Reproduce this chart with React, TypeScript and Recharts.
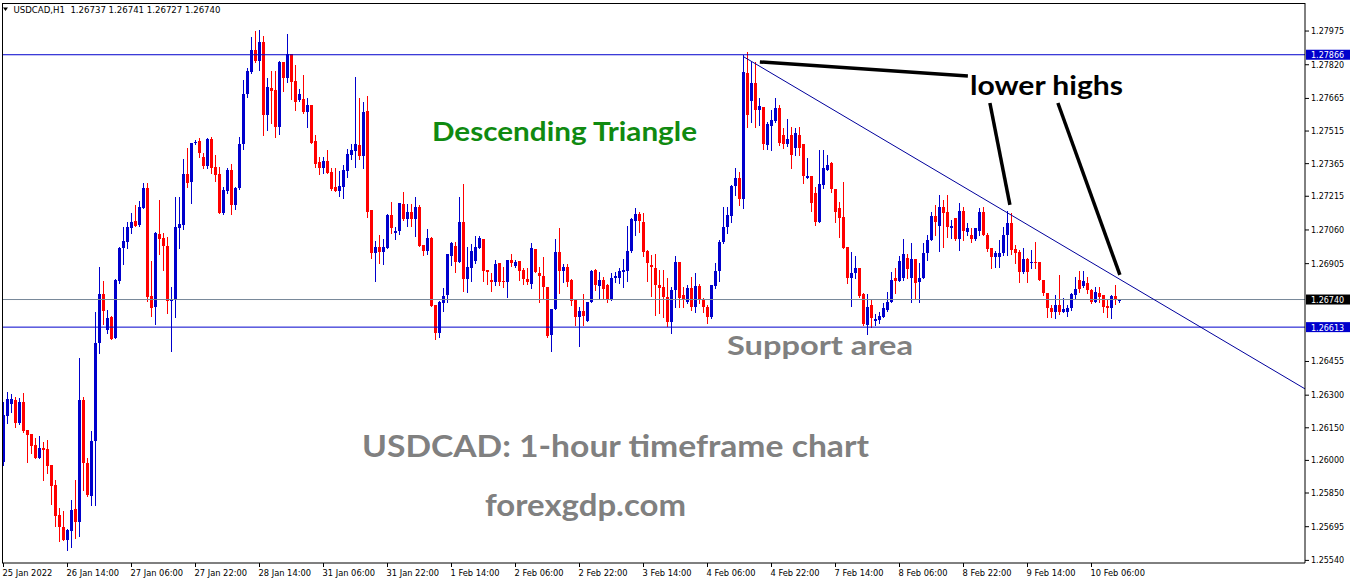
import React from 'react';
import { ComposedChart, Bar, XAxis, YAxis, ReferenceLine } from 'recharts';

// ---------- data (USDCAD H1, 25 Jan 22:00 -> 10 Feb 13:00) ----------
const opens = [
  1.25993, 1.26204, 1.26260, 1.26278, 1.26172, 1.26269, 1.26140, 1.26122, 1.26071, 1.26011,
  1.26057, 1.26053, 1.25979, 1.25887, 1.25749, 1.25694, 1.25634, 1.25675, 1.25777, 1.25717,
  1.26278, 1.25988, 1.25836, 1.26089, 1.26540, 1.26766, 1.26600, 1.26660, 1.26563, 1.26825,
  1.26977, 1.27005, 1.27069, 1.27101, 1.27083, 1.27161, 1.27253, 1.26756, 1.26706, 1.27041,
  1.27023, 1.26986, 1.26733, 1.26743, 1.27069, 1.27083, 1.27318, 1.27281, 1.27460, 1.27469,
  1.27396, 1.27354, 1.27479, 1.27350, 1.27318, 1.27138, 1.27239, 1.27336, 1.27175, 1.27253,
  1.27456, 1.27686, 1.27787, 1.27888, 1.27837, 1.27925, 1.27589, 1.27713, 1.27704, 1.27534,
  1.27833, 1.27759, 1.27870, 1.27745, 1.27658, 1.27663, 1.27603, 1.27635, 1.27469, 1.27373,
  1.27345, 1.27377, 1.27327, 1.27258, 1.27239, 1.27258, 1.27331, 1.27405, 1.27423, 1.27451,
  1.27400, 1.27607, 1.27152, 1.26954, 1.26982, 1.26959, 1.26977, 1.27129, 1.27046, 1.27055,
  1.27180, 1.27111, 1.27143, 1.27111, 1.27166, 1.26991, 1.26963, 1.27023, 1.26715, 1.26586,
  1.26724, 1.26761, 1.26940, 1.26986, 1.26913, 1.27097, 1.26834, 1.26885, 1.26917, 1.26977,
  1.27019, 1.26876, 1.26830, 1.26821, 1.26908, 1.26825, 1.26821, 1.26922, 1.26894, 1.26917,
  1.26876, 1.26834, 1.26812, 1.26973, 1.26862, 1.26848, 1.26798, 1.26577, 1.26697, 1.26959,
  1.26871, 1.26890, 1.26830, 1.26738, 1.26660, 1.26687, 1.26641, 1.26729, 1.26876, 1.26802,
  1.26830, 1.26807, 1.26743, 1.26839, 1.26839, 1.26867, 1.26871, 1.26963, 1.27101, 1.27134,
  1.27097, 1.26963, 1.26899, 1.26885, 1.26807, 1.26798, 1.26752, 1.26637, 1.26784, 1.26913,
  1.26761, 1.26729, 1.26793, 1.26706, 1.26802, 1.26738, 1.26706, 1.26660, 1.26802, 1.26871,
  1.27005, 1.27074, 1.27124, 1.27262, 1.27299, 1.27203, 1.27782, 1.27653, 1.27736, 1.27612,
  1.27626, 1.27451, 1.27539, 1.27561, 1.27621, 1.27497, 1.27456, 1.27497, 1.27437, 1.27497,
  1.27456, 1.27299, 1.27308, 1.27230, 1.27097, 1.27267, 1.27336, 1.27368, 1.27249, 1.27161,
  1.27120, 1.26982, 1.26839, 1.26862, 1.26885, 1.26766, 1.26623, 1.26715, 1.26641, 1.26646,
  1.26660, 1.26692, 1.26729, 1.26839, 1.26825, 1.26839, 1.26931, 1.26839, 1.26927, 1.26821,
  1.26839, 1.26954, 1.27014, 1.27124, 1.27078, 1.27166, 1.27143, 1.27069, 1.27115, 1.27019,
  1.27147, 1.27051, 1.27037, 1.27019, 1.27055, 1.27143, 1.27037, 1.26977, 1.26936, 1.26936,
  1.26954, 1.27037, 1.27092, 1.26973, 1.26959, 1.26867, 1.26927, 1.26908, 1.26913, 1.26913,
  1.26830, 1.26770, 1.26701, 1.26683, 1.26715, 1.26683, 1.26683, 1.26701, 1.26761, 1.26830,
  1.26802, 1.26816, 1.26784, 1.26729, 1.26770, 1.26761, 1.26710, 1.26701, 1.26756, 1.26737,
];

const highs = [
  1.26269, 1.26315, 1.26306, 1.26292, 1.26287, 1.26310, 1.26140, 1.26122, 1.26103, 1.26112,
  1.26085, 1.26094, 1.25979, 1.25910, 1.25781, 1.25767, 1.25685, 1.25818, 1.25910, 1.26471,
  1.26292, 1.26011, 1.26135, 1.26683, 1.26890, 1.26825, 1.26692, 1.26664, 1.26834, 1.26982,
  1.27074, 1.27097, 1.27138, 1.27175, 1.27193, 1.27276, 1.27276, 1.26917, 1.27051, 1.27198,
  1.27046, 1.27028, 1.26798, 1.27212, 1.27212, 1.27387, 1.27437, 1.27460, 1.27474, 1.27483,
  1.27414, 1.27483, 1.27488, 1.27405, 1.27350, 1.27258, 1.27345, 1.27364, 1.27258, 1.27488,
  1.27750, 1.27805, 1.27948, 1.27975, 1.27980, 1.27952, 1.27759, 1.27791, 1.27791, 1.27837,
  1.27833, 1.27962, 1.27870, 1.27819, 1.27709, 1.27773, 1.27667, 1.27635, 1.27497, 1.27396,
  1.27396, 1.27428, 1.27345, 1.27345, 1.27331, 1.27359, 1.27433, 1.27456, 1.27764, 1.27667,
  1.27649, 1.27676, 1.27152, 1.27009, 1.27037, 1.27019, 1.27134, 1.27189, 1.27074, 1.27184,
  1.27235, 1.27180, 1.27180, 1.27212, 1.27175, 1.26991, 1.27065, 1.27028, 1.26715, 1.26733,
  1.26793, 1.26950, 1.27005, 1.27005, 1.27212, 1.27272, 1.26982, 1.26996, 1.27032, 1.27032,
  1.27019, 1.26876, 1.26862, 1.26922, 1.26908, 1.26890, 1.26922, 1.26950, 1.26922, 1.26917,
  1.26885, 1.26885, 1.27000, 1.26973, 1.26890, 1.26936, 1.26798, 1.26697, 1.27019, 1.27069,
  1.26904, 1.26904, 1.26834, 1.26738, 1.26706, 1.26766, 1.26729, 1.26876, 1.26880, 1.26867,
  1.26844, 1.26812, 1.26862, 1.26867, 1.26885, 1.26927, 1.27078, 1.27115, 1.27161, 1.27143,
  1.27138, 1.26968, 1.26945, 1.26950, 1.26876, 1.26876, 1.26839, 1.26798, 1.26940, 1.26913,
  1.26798, 1.26807, 1.26844, 1.26862, 1.26812, 1.26747, 1.26715, 1.26807, 1.26908, 1.27014,
  1.27166, 1.27166, 1.27267, 1.27345, 1.27327, 1.27865, 1.27880, 1.27833, 1.27833, 1.27667,
  1.27626, 1.27557, 1.27612, 1.27667, 1.27635, 1.27529, 1.27571, 1.27534, 1.27529, 1.27534,
  1.27456, 1.27391, 1.27308, 1.27258, 1.27428, 1.27428, 1.27405, 1.27373, 1.27249, 1.27189,
  1.27281, 1.26982, 1.26959, 1.26940, 1.26885, 1.26770, 1.26766, 1.26738, 1.26674, 1.26683,
  1.26724, 1.26775, 1.26867, 1.26885, 1.26940, 1.27019, 1.26950, 1.27000, 1.26927, 1.26908,
  1.27000, 1.27037, 1.27143, 1.27175, 1.27221, 1.27198, 1.27221, 1.27106, 1.27115, 1.27184,
  1.27166, 1.27092, 1.27069, 1.27069, 1.27161, 1.27166, 1.27046, 1.26977, 1.26963, 1.27014,
  1.27074, 1.27147, 1.27138, 1.26991, 1.26968, 1.26977, 1.26931, 1.26968, 1.27005, 1.26913,
  1.26830, 1.26770, 1.26715, 1.26761, 1.26853, 1.26747, 1.26715, 1.26770, 1.26844, 1.26871,
  1.26871, 1.26844, 1.26788, 1.26798, 1.26798, 1.26761, 1.26738, 1.26761, 1.26807, 1.26741,
];

const lows = [
  1.25979, 1.26172, 1.26223, 1.26154, 1.26168, 1.26131, 1.25993, 1.26034, 1.26011, 1.26011,
  1.25910, 1.25942, 1.25800, 1.25698, 1.25629, 1.25634, 1.25588, 1.25602, 1.25643, 1.25652,
  1.25864, 1.25836, 1.25795, 1.25795, 1.26494, 1.26628, 1.26586, 1.26559, 1.26563, 1.26816,
  1.26904, 1.26977, 1.27046, 1.27078, 1.27078, 1.27161, 1.26733, 1.26664, 1.26628, 1.26950,
  1.26876, 1.26678, 1.26503, 1.26660, 1.26977, 1.27065, 1.27258, 1.27184, 1.27456, 1.27396,
  1.27345, 1.27345, 1.27322, 1.27285, 1.27138, 1.27134, 1.27230, 1.27134, 1.27157, 1.27249,
  1.27433, 1.27672, 1.27782, 1.27833, 1.27796, 1.27497, 1.27520, 1.27552, 1.27488, 1.27502,
  1.27699, 1.27741, 1.27663, 1.27612, 1.27653, 1.27598, 1.27534, 1.27460, 1.27350, 1.27318,
  1.27322, 1.27322, 1.27244, 1.27239, 1.27216, 1.27207, 1.27304, 1.27387, 1.27350, 1.27387,
  1.27345, 1.27120, 1.26931, 1.26825, 1.26908, 1.26904, 1.26977, 1.27046, 1.27019, 1.27041,
  1.27106, 1.27078, 1.27078, 1.27032, 1.26986, 1.26945, 1.26950, 1.26710, 1.26559, 1.26568,
  1.26687, 1.26729, 1.26899, 1.26867, 1.26913, 1.26779, 1.26775, 1.26825, 1.26908, 1.26977,
  1.26825, 1.26812, 1.26779, 1.26807, 1.26807, 1.26798, 1.26752, 1.26894, 1.26890, 1.26830,
  1.26812, 1.26812, 1.26793, 1.26867, 1.26729, 1.26747, 1.26568, 1.26503, 1.26697, 1.26770,
  1.26821, 1.26802, 1.26715, 1.26623, 1.26526, 1.26623, 1.26641, 1.26729, 1.26784, 1.26743,
  1.26747, 1.26729, 1.26738, 1.26821, 1.26816, 1.26798, 1.26825, 1.26959, 1.27037, 1.27051,
  1.26940, 1.26825, 1.26756, 1.26669, 1.26678, 1.26660, 1.26618, 1.26586, 1.26706, 1.26706,
  1.26706, 1.26724, 1.26692, 1.26683, 1.26724, 1.26683, 1.26632, 1.26655, 1.26793, 1.26825,
  1.27000, 1.27046, 1.27097, 1.27221, 1.27175, 1.27161, 1.27534, 1.27557, 1.27534, 1.27543,
  1.27433, 1.27433, 1.27428, 1.27557, 1.27451, 1.27437, 1.27446, 1.27345, 1.27405, 1.27405,
  1.27276, 1.27299, 1.27147, 1.27083, 1.27097, 1.27253, 1.27336, 1.27235, 1.27097, 1.27028,
  1.26977, 1.26816, 1.26710, 1.26839, 1.26752, 1.26623, 1.26582, 1.26614, 1.26623, 1.26632,
  1.26660, 1.26687, 1.26729, 1.26770, 1.26825, 1.26830, 1.26839, 1.26729, 1.26747, 1.26729,
  1.26839, 1.26922, 1.27014, 1.27037, 1.26963, 1.26982, 1.27028, 1.27023, 1.27014, 1.26968,
  1.27014, 1.27037, 1.27005, 1.27014, 1.27037, 1.27037, 1.26963, 1.26885, 1.26890, 1.26890,
  1.26945, 1.26945, 1.26950, 1.26908, 1.26821, 1.26862, 1.26821, 1.26885, 1.26885, 1.26830,
  1.26761, 1.26660, 1.26660, 1.26655, 1.26674, 1.26683, 1.26664, 1.26692, 1.26747, 1.26775,
  1.26798, 1.26770, 1.26724, 1.26729, 1.26729, 1.26683, 1.26660, 1.26655, 1.26720, 1.26727,
];

const closes = [
  1.26209, 1.26283, 1.26283, 1.26172, 1.26269, 1.26135, 1.26117, 1.26066, 1.26011, 1.26057,
  1.26048, 1.25974, 1.25882, 1.25744, 1.25694, 1.25634, 1.25680, 1.25772, 1.25717, 1.26278,
  1.25988, 1.25841, 1.26089, 1.26540, 1.26766, 1.26687, 1.26655, 1.26559, 1.26830, 1.26977,
  1.27009, 1.27074, 1.27097, 1.27078, 1.27166, 1.27253, 1.26752, 1.26701, 1.27046, 1.27018,
  1.26986, 1.26733, 1.26743, 1.27074, 1.27088, 1.27318, 1.27276, 1.27460, 1.27465, 1.27414,
  1.27354, 1.27479, 1.27345, 1.27313, 1.27138, 1.27244, 1.27336, 1.27175, 1.27253, 1.27456,
  1.27686, 1.27791, 1.27888, 1.27837, 1.27925, 1.27589, 1.27718, 1.27699, 1.27534, 1.27833,
  1.27759, 1.27870, 1.27741, 1.27649, 1.27686, 1.27603, 1.27635, 1.27460, 1.27364, 1.27345,
  1.27377, 1.27322, 1.27249, 1.27239, 1.27262, 1.27336, 1.27410, 1.27428, 1.27456, 1.27400,
  1.27603, 1.27143, 1.26954, 1.26982, 1.26959, 1.26982, 1.27129, 1.27069, 1.27055, 1.27184,
  1.27111, 1.27143, 1.27111, 1.27166, 1.26986, 1.26963, 1.27023, 1.26710, 1.26586, 1.26729,
  1.26756, 1.26950, 1.27000, 1.26913, 1.27097, 1.26834, 1.26890, 1.26963, 1.26982, 1.27023,
  1.26871, 1.26867, 1.26821, 1.26904, 1.26821, 1.26821, 1.26922, 1.26908, 1.26913, 1.26871,
  1.26834, 1.26821, 1.26977, 1.26867, 1.26848, 1.26798, 1.26572, 1.26697, 1.26959, 1.26871,
  1.26890, 1.26821, 1.26733, 1.26660, 1.26687, 1.26664, 1.26729, 1.26871, 1.26807, 1.26830,
  1.26788, 1.26743, 1.26839, 1.26848, 1.26871, 1.26876, 1.26963, 1.27111, 1.27134, 1.27101,
  1.26959, 1.26908, 1.26890, 1.26807, 1.26793, 1.26752, 1.26637, 1.26784, 1.26913, 1.26747,
  1.26738, 1.26793, 1.26706, 1.26802, 1.26738, 1.26706, 1.26660, 1.26807, 1.26871, 1.27005,
  1.27074, 1.27129, 1.27262, 1.27299, 1.27203, 1.27787, 1.27589, 1.27736, 1.27612, 1.27630,
  1.27456, 1.27548, 1.27566, 1.27621, 1.27460, 1.27456, 1.27479, 1.27405, 1.27506, 1.27437,
  1.27308, 1.27308, 1.27184, 1.27097, 1.27272, 1.27345, 1.27359, 1.27249, 1.27143, 1.27115,
  1.26977, 1.26839, 1.26862, 1.26885, 1.26756, 1.26628, 1.26706, 1.26655, 1.26651, 1.26664,
  1.26701, 1.26729, 1.26830, 1.26825, 1.26917, 1.26950, 1.26880, 1.26927, 1.26816, 1.26839,
  1.26954, 1.27014, 1.27124, 1.27097, 1.27166, 1.27138, 1.27074, 1.27078, 1.27019, 1.27147,
  1.27055, 1.27069, 1.27019, 1.27069, 1.27143, 1.27037, 1.26973, 1.26936, 1.26954, 1.26954,
  1.27037, 1.27092, 1.26968, 1.26954, 1.26867, 1.26927, 1.26867, 1.26913, 1.26908, 1.26830,
  1.26770, 1.26701, 1.26683, 1.26715, 1.26683, 1.26697, 1.26701, 1.26766, 1.26788, 1.26788,
  1.26825, 1.26784, 1.26729, 1.26775, 1.26752, 1.26706, 1.26701, 1.26756, 1.26743, 1.26740,
];

// time-axis labels (every 16 hourly bars)
const timeTickIndex = [0, 16, 32, 48, 64, 80, 96, 112, 128, 144, 160, 176, 192, 208, 224, 240, 256, 272];
const timeTickLabels = [
  '25 Jan 2022', '26 Jan 14:00', '27 Jan 06:00', '27 Jan 22:00', '28 Jan 14:00', '31 Jan 06:00',
  '31 Jan 22:00', '1 Feb 14:00', '2 Feb 06:00', '2 Feb 22:00', '3 Feb 14:00', '4 Feb 06:00',
  '4 Feb 22:00', '7 Feb 14:00', '8 Feb 06:00', '8 Feb 22:00', '9 Feb 14:00', '10 Feb 06:00',
];
const priceTicks = [
  1.2554, 1.25695, 1.2585, 1.26, 1.2615, 1.263, 1.26455, 1.26905, 1.2706,
  1.27215, 1.27365, 1.27515, 1.27665, 1.2782, 1.27975,
];

// horizontal levels
const resistanceLevel = 1.27866;
const supportLevel = 1.26613;
const lastPrice = 1.2674;

// descending trend line and "lower highs" pointer lines (bar index, price)
const trendLine = [{ x: 185, y: 1.27857 }, { x: 325.375, y: 1.26329 }];
const pointerLines = [
  [{ x: 189.1, y: 1.27833 }, { x: 241.1, y: 1.27768 }],
  [{ x: 246.6, y: 1.27644 }, { x: 251.6, y: 1.27175 }],
  [{ x: 263.6, y: 1.27644 }, { x: 279.1, y: 1.26853 }],
];

const header = 'USDCAD,H1  1.26737 1.26741 1.26727 1.26740';

// ---------- chart ----------
const W = 1350;
const H = 584;
const BULL = '#0000CC';
const BEAR = '#FF0000';

const data = opens.map((o, i) => ({
  i,
  o,
  h: highs[i],
  l: lows[i],
  c: closes[i],
  range: [lows[i], highs[i]],
}));

function Candle(props: any) {
  const { x, y, width, height, payload } = props;
  if (!payload || x == null) return null;
  const { o, h, l, c } = payload;
  const top = height < 0 ? y + height : y;
  const hh = Math.abs(height);
  const span = h - l;
  const py = (v: number) => (span > 0 ? top + ((h - v) / span) * hh : top);
  const cx = Math.round(x + width / 2 - 0.5) + 0.5;
  const color = c >= o ? BULL : BEAR;
  const yo = py(o);
  const yc = py(c);
  const bTop = Math.round(Math.min(yo, yc));
  const bBot = Math.round(Math.max(yo, yc));
  return (
    <g>
      <line x1={cx} x2={cx} y1={Math.round(top)} y2={Math.round(top + hh) + 1} stroke={color} strokeWidth={1} />
      <rect x={cx - 1.5} y={bTop} width={3} height={Math.max(bBot - bTop, 1)} fill={color} />
    </g>
  );
}

function PriceTag(props: any) {
  const { viewBox, value, bg } = props;
  if (!viewBox) return null;
  const x = viewBox.x + viewBox.width + 1;
  const y = viewBox.y;
  return (
    <g>
      <rect x={x} y={y - 5} width={44} height={10} fill={bg} />
      <text x={x + 5} y={y + 3.5} fill="#FFFFFF" fontSize={8} fontFamily="DejaVu Sans">
        {value.toFixed(5)}
      </text>
    </g>
  );
}

function XTick(props: any) {
  const { x, y, payload } = props;
  const k = timeTickIndex.indexOf(payload.value);
  return (
    <text x={x - 1} y={y + 6.5} fontSize={8.3} fontFamily="DejaVu Sans" fill="#000" textAnchor="start">
      {k >= 0 ? timeTickLabels[k] : ''}
    </text>
  );
}

function YTick(props: any) {
  const { x, y, payload } = props;
  return (
    <text x={x} y={y + 3} fontSize={8} fontFamily="DejaVu Sans" fill="#000" textAnchor="start">
      {Number(payload.value).toFixed(5)}
    </text>
  );
}

export default function App() {
  return (
    <div style={{ position: 'absolute', left: 0, top: 0, width: W, height: H, background: '#FFFFFF' }}>
      <ComposedChart width={W} height={H} data={data} margin={{ top: 3, right: 0, bottom: 0, left: 2 }}>
        <XAxis
          dataKey="i"
          type="number"
          domain={[-0.375, 325.375]}
          allowDataOverflow
          ticks={timeTickIndex}
          interval={0}
          tick={<XTick />}
          tickSize={4}
          height={21}
          axisLine={{ stroke: '#000' }}
          tickLine={{ stroke: '#000' }}
        />
        <YAxis
          orientation="right"
          type="number"
          domain={[1.25528, 1.28104]}
          allowDataOverflow
          ticks={priceTicks}
          interval={0}
          width={45}
          tick={<YTick />}
          tickSize={4}
          tickMargin={2}
          axisLine={{ stroke: '#000' }}
          tickLine={{ stroke: '#000' }}
        />
        <ReferenceLine
          y={lastPrice}
          stroke="#778899"
          strokeWidth={1}
          label={<PriceTag value={lastPrice} bg="#000000" />}
        />
        <ReferenceLine
          y={resistanceLevel}
          stroke="#0000CC"
          strokeWidth={1}
          label={<PriceTag value={resistanceLevel} bg="#0000CC" />}
        />
        <ReferenceLine
          y={supportLevel}
          stroke="#0000CC"
          strokeWidth={1}
          label={<PriceTag value={supportLevel} bg="#0000CC" />}
        />
        <Bar dataKey="range" barSize={3} shape={<Candle />} isAnimationActive={false} />
        <ReferenceLine segment={trendLine} stroke="#00009C" strokeWidth={1} ifOverflow="visible" />
        {pointerLines.map((seg, k) => (
          <ReferenceLine key={k} segment={seg} stroke="#000" strokeWidth={3.5} ifOverflow="visible" />
        ))}
      </ComposedChart>
      <svg width={W} height={H} style={{ position: 'absolute', left: 0, top: 0, pointerEvents: 'none' }}>
        <line x1={2.5} y1={3} x2={2.5} y2={563} stroke="#000" />
        <line x1={2} y1={3.5} x2={1305} y2={3.5} stroke="#000" />
        <path d="M3 7.5 L8 7.5 L5.5 11 Z" fill="#000" />
        <text x={13.5} y={13} fontSize={8.5} fontFamily="DejaVu Sans" fill="#000" textLength={207} lengthAdjust="spacingAndGlyphs" style={{ whiteSpace: 'pre' }}>
          {header}
        </text>
        <text x={432} y={141} fontSize={27} fontWeight={700} fontFamily="Lato" fill="#108A10" textLength={265} lengthAdjust="spacingAndGlyphs">
          Descending Triangle
        </text>
        <text x={970} y={95} fontSize={27} fontWeight={700} fontFamily="Lato" fill="#000" textLength={153} lengthAdjust="spacingAndGlyphs">
          lower highs
        </text>
        <text x={727} y={355} fontSize={27} fontWeight={700} fontFamily="Lato" fill="#808080" textLength={186} lengthAdjust="spacingAndGlyphs">
          Support area
        </text>
        <text x={362} y={457} fontSize={30} fontWeight={700} fontFamily="Lato" fill="#808080" textLength={507} lengthAdjust="spacingAndGlyphs">
          USDCAD: 1-hour timeframe chart
        </text>
        <text x={485} y={516} fontSize={30} fontWeight={700} fontFamily="Lato" fill="#808080" textLength={201} lengthAdjust="spacingAndGlyphs">
          forexgdp.com
        </text>
      </svg>
    </div>
  );
}
